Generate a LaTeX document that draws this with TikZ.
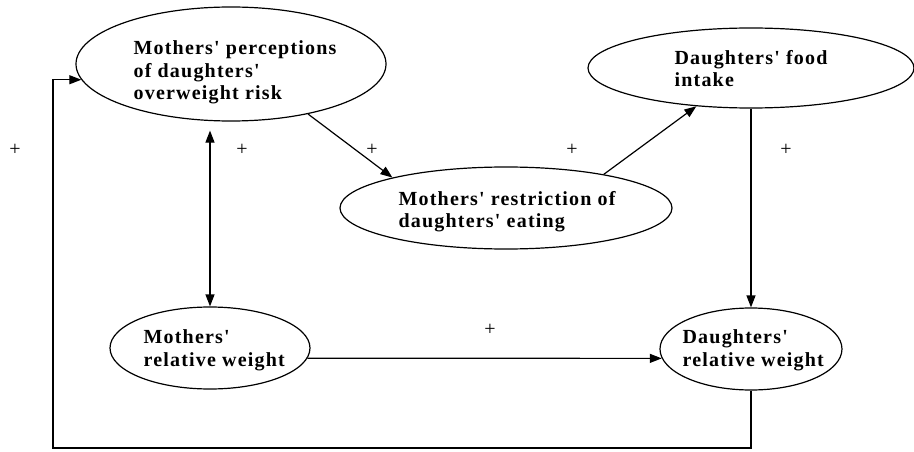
\documentclass[tikz,border=0pt]{standalone}
\usepackage{fontspec}
\setmainfont{Liberation Serif}
\newfontfamily\nfont[LetterSpace=6,Ligatures=TeXOff]{Liberation Serif}
\usetikzlibrary{arrows.meta,shapes.geometric}
\begin{document}
\begin{tikzpicture}[x=1pt,y=-1pt,line width=1.2pt,
  >={Triangle[length=12pt,width=9pt]},
  ell/.style={draw, ellipse, inner sep=0pt},
  lbl/.style={font=\nfont\bfseries\fontsize{20}{22.5}\selectfont, align=left, anchor=north west, inner sep=0pt},
  pl/.style={font=\fontsize{20}{22}\selectfont, inner sep=0pt}]
\useasboundingbox (0,0) rectangle (914,452);
\node[ell, minimum width=310pt, minimum height=114pt] (pe) at (231,64) {};
\node[lbl] (pet) at (133,40.5) {Mothers' perceptions\\of daughters'\\overweight risk};
\node[ell, minimum width=326pt, minimum height=80pt] (fi) at (751,68) {};
\node[lbl] (fit) at (674,49.5) {Daughters' food\\intake};
\node[ell, minimum width=332pt, minimum height=82pt] (rs) at (506,208) {};
\node[lbl] (rst) at (398,190.5) {Mothers' restriction of\\daughters' eating};
\node[ell, minimum width=200pt, minimum height=82pt] (mr) at (210,348) {};
\node[lbl] (mrt) at (143,329.5) {Mothers'\\relative weight};
\node[ell, minimum width=182pt, minimum height=82pt] (dr) at (751,349) {};
\node[lbl] (drt) at (682,329.5) {Daughters'\\relative weight};
\draw[<->] (mr.north) -- ([yshift=-9pt]mr.north |- pe.south);
\draw[->] (pe.-33) -- (rs.165);
\draw[->] (rs.19) -- (fi.215);
\draw[->] (fi.south) -- (dr.north);
\draw[->] (mr.-6) -- (dr.186);
\coordinate (fb) at (53,448);
\draw[->] (dr.south) |- (fb) |- (pe.186);
\node[pl] (p1) at (15,150) {+};
\node[pl] (p2) at (242,150) {+};
\node[pl] (p3) at (372,150) {+};
\node[pl] (p4) at (572,150) {+};
\node[pl] (p5) at (786,150) {+};
\node[pl] (p6) at (490,330) {+};
\end{tikzpicture}
\end{document}
